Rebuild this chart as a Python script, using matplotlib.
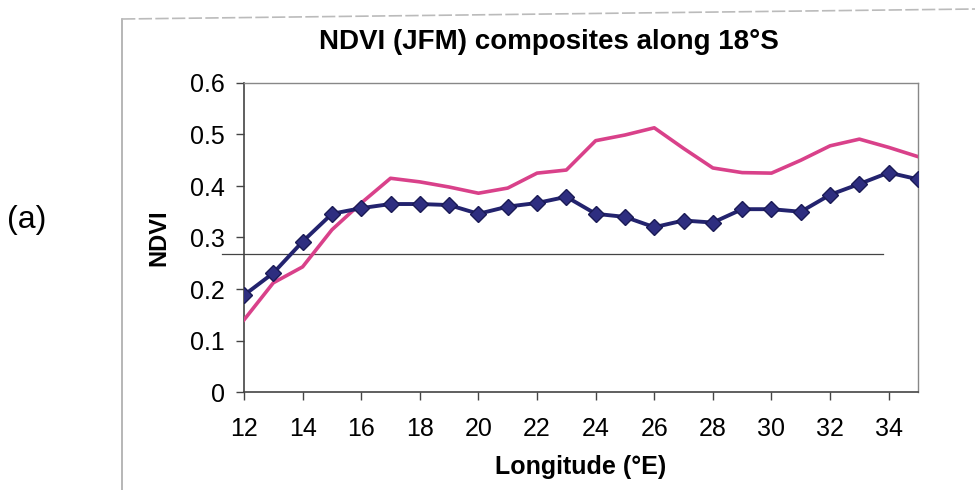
import matplotlib
matplotlib.use("Agg")
import matplotlib.pyplot as plt
from matplotlib.lines import Line2D

plt.rcParams['font.family'] = ['Liberation Sans', 'DejaVu Sans']

# longitude (deg E) along 18S
lon = list(range(12, 36))
ndvi_blue = [0.188, 0.231, 0.292, 0.346, 0.357, 0.365, 0.365, 0.363, 0.346, 0.360,
             0.367, 0.379, 0.346, 0.340, 0.320, 0.333, 0.329, 0.355, 0.355, 0.350,
             0.383, 0.404, 0.426, 0.413]
ndvi_pink = [0.140, 0.212, 0.243, 0.315, 0.367, 0.415, 0.408, 0.398, 0.386, 0.396,
             0.425, 0.431, 0.488, 0.499, 0.513, 0.473, 0.435, 0.426, 0.425, 0.450,
             0.478, 0.491, 0.475, 0.457]
threshold = 0.268
threshold_x = [11.25, 33.8]
xticks = list(range(12, 35, 2))
yticks = [0, 0.1, 0.2, 0.3, 0.4, 0.5, 0.6]

fig = plt.figure(figsize=(9.75, 4.9), dpi=100)
ax = fig.add_axes([244 / 975, 1 - 392 / 490, (918 - 244) / 975, (392 - 83) / 490])

ax.plot(lon, ndvi_pink, color="#D9418A", linewidth=2.6, zorder=3)
ax.plot(lon, ndvi_blue, color="#23236E", linewidth=2.8, marker="D",
        markersize=8, markerfacecolor="#2E2E80", markeredgecolor="#1A1A55", zorder=4)
ax.plot(threshold_x, [threshold, threshold], color="#444444", linewidth=0.9,
        clip_on=False, zorder=2)

ax.set_xlim(12, 35)
ax.set_ylim(0, 0.6)
ax.set_xticks(xticks)
ax.set_yticks(yticks)
ax.set_yticklabels(["0" if v == 0 else f"{v:.1f}" for v in yticks])
ax.tick_params(axis="both", labelsize=18, color="#444444", width=1, length=6,
               direction="out")
ax.tick_params(axis="y", pad=8)
ax.tick_params(axis="x", pad=12)

for side in ["left", "bottom"]:
    ax.spines[side].set_color("#444444")
    ax.spines[side].set_linewidth(1.2)
for side in ["top", "right"]:
    ax.spines[side].set_color("#888888")
    ax.spines[side].set_linewidth(1.0)

ax.set_xlabel("Longitude (°E)", fontsize=18, fontweight="bold", labelpad=10)
ax.set_ylabel("NDVI", fontsize=17, fontweight="bold", labelpad=14)

fig.text(549 / 975, 1 - 42 / 490, "NDVI (JFM) composites along 18°S",
         ha="center", va="center", fontsize=20, fontweight="bold")
fig.text(27 / 975, 1 - 220 / 490, "(a)", ha="center", va="center", fontsize=23)

# outer chart frame (scanned, slightly tilted top edge)
fig.add_artist(Line2D([122 / 975, 122 / 975], [0, 1 - 19 / 490],
                      color="#aaaaaa", linewidth=1.2))
fig.add_artist(Line2D([122 / 975, 1], [1 - 19 / 490, 1 - 9 / 490],
                      color="#bbbbbb", linewidth=1.2, linestyle=(0, (8, 2))))

fig.savefig("out.png", dpi=100)
